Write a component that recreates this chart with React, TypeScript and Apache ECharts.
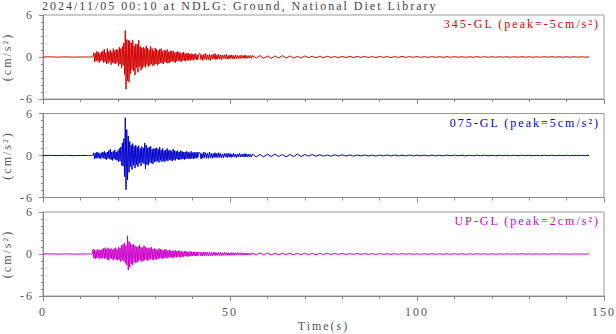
import React, { useEffect, useRef } from "react";
import * as echarts from "echarts";

const TITLE = "2024/11/05 00:10 at NDLG: Ground, National Diet Library";
const X_TICKS = [0, 50, 100, 150];
const Y_TICKS = [-6, 0, 6];
const LABELS = ["345-GL", "075-GL", "UP-GL"];
const PEAKS = ["-5", "5", "2"];
const COLORS = ["#d40000", "#0000cc", "#cc00cc"];
const Y_NAME = "(cm/s²)";

// Segment layout (start time, step in seconds)
const SEG_A = { t0: 0, dt: 2 };
const SEG_B = { t0: 12, dt: 0.2 };
const SEG_C = { t0: 42, dt: 0.25 };
const SEG_D = { t0: 56, dt: 1 };

// ---------- 345-GL ----------
const ns_a = [0, 0.02, -0.02, 0.02, -0.02, 0];
const ns_b = [
  0, 0, 0.05, -0.05, 0, 0.05, -0.05, 0.1,
  0.6, -0.7, 0.5, -0.6, 0.8, -0.5, 0.7, -0.8, 0.5, -0.6, 0.7, -0.5,
  0.9, -0.8, 1.1, -0.7, 0.6, -1.0, 1.2, -0.9, 0.8, -0.6, 1.0, -1.1, 0.7, -0.8, 1.2, -0.9, 0.9, -1.0, 1.1, -0.8,
  1.0, -1.3, 1.4, -1.0, 1.2, -1.6, 1.5, -1.2, 2.0, -2.5,
  3.8, -4.6, 2.5, -3.4, 2.4,
  -3.6, 2.3, -2.4, 2.0, -1.8, 2.4, -2.0, 1.6, -2.6, 1.9,
  -1.5, 1.8, -2.2, 2.4, -1.4, 1.5, -1.9, 1.3, -1.6, 1.4,
  -1.3, 1.2, -1.5, 1.6, -1.1, 1.3, -1.4, 1.0, -1.2, 1.5, -1.0, 1.2, -1.3, 0.9, -1.1,
  1.3, -1.0, 1.1, -1.2, 0.9, -1.0, 1.1, -0.8, 1.2, -0.9, 0.8, -1.0, 1.0, -0.7, 0.9, -0.8, 1.1, -0.9, 0.7, -0.8,
  0.9, -0.7, 0.8, -0.6, 0.9, -0.7, 0.6, -0.8, 0.7, -0.6, 0.8, -0.5, 0.7, -0.6, 0.5, -0.7, 0.6, -0.5, 0.7, -0.5,
  0.5, -0.6, 0.5, -0.4, 0.6, -0.5, 0.4, -0.5, 0.5, -0.4, 0.4, -0.5, 0.4, -0.3, 0.5, -0.4, 0.3, -0.4, 0.4,
];
const ns_c = [
  0.5, -0.4, 0.3, -0.5, 0.4, -0.3, 0.5, -0.4, 0.3, -0.4,
  0.4, -0.5, 0.3, -0.3, 0.4, -0.3, 0.5, -0.4, 0.3, -0.3,
  0.4, -0.3, 0.3, -0.4, 0.3, -0.2, 0.3, -0.3, 0.4, -0.3,
  0.2, -0.3, 0.3, -0.2, 0.3, -0.3, 0.2, -0.3, 0.3, -0.2,
  0.2, -0.3, 0.2, -0.2, 0.3, -0.2, 0.2, -0.2, 0.3, -0.2,
  0.2, -0.2, 0.2, -0.15, 0.2, -0.2,
];
const ns_d = [
  0.2, -0.15, 0.2, -0.2, 0.15, -0.2, 0.15, -0.15, 0.2, -0.15, 0.15, -0.15, 0.1, -0.15, 0.15,
  -0.1, 0.1, -0.1, 0.08, -0.1, 0.1, -0.08, 0.08, -0.1, 0.08,
  -0.08, 0.1, -0.08, 0.08, -0.06, 0.08, -0.08, 0.06, -0.08, 0.08,
  -0.06, 0.06, -0.08, 0.06, -0.06, 0.08, -0.06, 0.06, -0.05, 0.06,
  -0.05, 0.05, -0.06, 0.05, -0.05, 0.04, -0.05, 0.05, -0.04, 0.05,
  -0.04, 0.04, -0.05, 0.04, -0.04, 0.05, -0.04, 0.04, -0.04, 0.03,
  -0.04, 0.04, -0.03, 0.04, -0.04, 0.03, -0.03, 0.04, -0.03, 0.03,
  -0.04, 0.03, -0.03, 0.03, -0.03, 0.04, -0.03, 0.03, -0.03, 0.03,
  -0.03, 0.03, -0.02, 0.03, -0.03, 0.02,
];

// ---------- 075-GL ----------
const ew_a = [0, 0.02, -0.02, 0.02, -0.02, 0];
const ew_b = [
  0, 0, 0, 0.05, -0.05, 0, 0.05, 0,
  0.4, -0.5, 0.3, -0.4, 0.5, -0.3, 0.4, -0.4, 0.3, -0.5, 0.4, -0.3,
  0.5, -0.4, 0.6, -0.5, 0.4, -0.6, 0.5, -0.4, 0.7, -0.5, 0.9, -0.6, 0.5, -0.7, 0.6, -0.5, 0.8, -0.6, 0.5, -0.7,
  0.7, -0.9, 1.0, -0.8, 1.2, -1.4, 1.8, -1.5, 2.4, -3.0,
  5.4, -4.9, 3.7, -3.5, 2.8,
  -2.4, 2.0, -1.6, 1.5, -2.0, 1.7, -1.4, 1.3, -1.8, 1.5,
  -1.3, 1.2, -1.6, 1.4, -1.1, 1.0, -1.5, 1.3, -1.0, 1.1,
  -1.2, 1.8, -1.9, 1.5, -1.3, 1.1, -1.4, 1.2, -1.0, 1.3, -1.1, 0.9, -1.2, 1.0, -0.9,
  1.0, -0.9, 1.1, -0.8, 0.9, -1.0, 1.2, -0.7, 0.8, -0.9, 1.0, -0.8, 0.7, -0.9, 0.8, -0.7, 1.0, -0.8, 0.7, -0.6,
  0.8, -0.7, 0.6, -0.8, 0.9, -0.6, 0.7, -0.7, 0.6, -0.5, 0.7, -0.6, 0.5, -0.6, 0.7, -0.5, 0.6, -0.5, 0.5, -0.6,
  0.5, -0.5, 0.6, -0.4, 0.5, -0.5, 0.4, -0.5, 0.6, -0.4, 0.4, -0.5, 0.5, -0.4, 0.4, -0.4, 0.5, -0.3, 0.4,
];
const ew_c = [
  0.4, -0.5, 0.3, -0.4, 0.5, -0.3, 0.4, -0.4, 0.3, -0.4,
  0.5, -0.3, 0.3, -0.4, 0.3, -0.3, 0.4, -0.3, 0.3, -0.3,
  0.4, -0.3, 0.3, -0.3, 0.2, -0.3, 0.3, -0.2, 0.3, -0.3,
  0.3, -0.2, 0.3, -0.3, 0.2, -0.2, 0.3, -0.2, 0.2, -0.3,
  0.2, -0.2, 0.3, -0.2, 0.2, -0.2, 0.2, -0.2, 0.3, -0.2,
  0.2, -0.2, 0.2, -0.2, 0.15, -0.2,
];
const ew_d = [
  0.2, -0.2, 0.15, -0.2, 0.2, -0.15, 0.2, -0.15, 0.15, -0.2, 0.15, -0.15, 0.2, -0.15, 0.15,
  -0.1, 0.15, -0.1, 0.1, -0.1, 0.08, -0.1, 0.1, -0.08, 0.1,
  -0.08, 0.08, -0.1, 0.08, -0.06, 0.08, -0.08, 0.06, -0.08, 0.06,
  -0.06, 0.08, -0.06, 0.06, -0.06, 0.05, -0.06, 0.06, -0.05, 0.05,
  -0.05, 0.05, -0.06, 0.05, -0.05, 0.04, -0.05, 0.05, -0.04, 0.05,
  -0.04, 0.04, -0.05, 0.04, -0.04, 0.05, -0.04, 0.04, -0.04, 0.03,
  -0.04, 0.04, -0.03, 0.04, -0.04, 0.03, -0.03, 0.04, -0.03, 0.03,
  -0.04, 0.03, -0.03, 0.03, -0.03, 0.04, -0.03, 0.03, -0.03, 0.03,
  -0.03, 0.03, -0.02, 0.03, -0.03, 0.02,
];

// ---------- UP-GL ----------
const ud_a = [0, 0.02, -0.02, 0.02, -0.02, 0];
const ud_b = [
  0, 0.05, -0.05, 0, 0.05, -0.05, 0,
  0.7, -0.6, 0.6, -0.7, 0.5, -0.6, 0.7, -0.5, 0.6, -0.7, 0.5, -0.6, 0.7, -0.6,
  0.8, -0.7, 0.9, -0.6, 0.7, -0.8, 0.9, -0.9, 0.7, -0.6, 0.8, -0.7, 0.6, -0.9, 0.8, -0.7, 0.9, -0.8, 0.7, -0.9,
  1.0, -0.8, 0.9, -1.1, 1.2, -0.9, 1.4, -1.0, 1.6, -1.3,
  1.2, -1.6, 2.6, -2.3, 1.8,
  -1.9, 1.5, -1.4, 1.3, -1.6, 1.4, -1.1, 1.2, -1.3, 1.0,
  -1.2, 1.1, -1.0, 1.3, -0.9, 1.0, -1.1, 0.9, -1.0, 1.2,
  -0.9, 1.0, -0.8, 0.9, -1.0, 0.8, -0.8, 0.9, -0.7, 1.0, -0.8, 0.7, -0.9, 0.8, -0.7,
  0.7, -0.8, 0.6, -0.7, 0.8, -0.6, 0.7, -0.6, 0.6, -0.7, 0.5, -0.6, 0.7, -0.5, 0.6, -0.6, 0.5, -0.5, 0.6, -0.5,
  0.5, -0.5, 0.4, -0.6, 0.5, -0.4, 0.5, -0.5, 0.4, -0.4, 0.5, -0.4, 0.4, -0.5, 0.4, -0.4, 0.3, -0.4, 0.4, -0.3,
  0.4, -0.3, 0.3, -0.4, 0.3, -0.3, 0.4, -0.3, 0.3, -0.3, 0.3, -0.25, 0.3, -0.3, 0.25, -0.3, 0.3, -0.2, 0.25,
];
const ud_c = [
  0.3, -0.3, 0.25, -0.3, 0.3, -0.25, 0.3, -0.3, 0.25, -0.25,
  0.3, -0.25, 0.2, -0.25, 0.25, -0.2, 0.25, -0.25, 0.2, -0.2,
  0.25, -0.2, 0.2, -0.25, 0.2, -0.2, 0.25, -0.2, 0.2, -0.2,
  0.2, -0.2, 0.15, -0.2, 0.2, -0.15, 0.2, -0.2, 0.15, -0.15,
  0.2, -0.15, 0.15, -0.15, 0.2, -0.15, 0.15, -0.15, 0.15, -0.15,
  0.15, -0.15, 0.1, -0.15, 0.15, -0.1,
];
const ud_d = [
  0.12, -0.12, 0.15, -0.1, 0.12, -0.12, 0.1, -0.12, 0.12, -0.1, 0.1, -0.12, 0.1, -0.1, 0.12,
  -0.1, 0.08, -0.1, 0.08, -0.08, 0.1, -0.08, 0.08, -0.06, 0.08,
  -0.08, 0.06, -0.06, 0.08, -0.06, 0.06, -0.06, 0.05, -0.06, 0.06,
  -0.05, 0.05, -0.06, 0.05, -0.05, 0.05, -0.04, 0.05, -0.05, 0.04,
  -0.05, 0.04, -0.05, 0.04, -0.04, 0.04, -0.05, 0.04, -0.04, 0.04,
  -0.04, 0.04, -0.04, 0.03, -0.04, 0.04, -0.03, 0.04, -0.03, 0.03,
  -0.04, 0.03, -0.03, 0.03, -0.03, 0.03, -0.03, 0.04, -0.03, 0.03,
  -0.03, 0.03, -0.03, 0.02, -0.03, 0.03, -0.02, 0.03, -0.02, 0.02,
  -0.03, 0.02, -0.02, 0.02, -0.02, 0.02,
];

const TRACES = [
  [ns_a, ns_b, ns_c, ns_d],
  [ew_a, ew_b, ew_c, ew_d],
  [ud_a, ud_b, ud_c, ud_d],
];
const SEGS = [SEG_A, SEG_B, SEG_C, SEG_D];

function buildSeries(parts: number[][]): [number, number][] {
  const out: [number, number][] = [];
  parts.forEach((vals, k) => {
    const seg = SEGS[k];
    vals.forEach((v, i) => {
      out.push([+(seg.t0 + i * seg.dt).toFixed(2), v]);
    });
  });
  return out;
}

const FONT = "'Liberation Serif', 'Times New Roman', serif";
const GREY_TXT = "#555";
const AXIS_C = "#888";

const GRID_TOPS = [15, 113.5, 212];
const GRID_H = 84;

export default function App() {
  const ref = useRef<HTMLDivElement>(null);
  useEffect(() => {
    if (!ref.current) return;
    const chart = echarts.init(ref.current, null, { renderer: "svg" });

    const grids = GRID_TOPS.map((top) => ({
      left: 43,
      right: 12,
      top,
      height: GRID_H,
      show: true,
      borderColor: "#999",
      borderWidth: 1,
      backgroundColor: "transparent",
      containLabel: false,
      outerBoundsMode: "none",
    }));

    const xAxes = GRID_TOPS.map((_, i) => ({
      type: "value",
      gridIndex: i,
      min: X_TICKS[0],
      max: X_TICKS[X_TICKS.length - 1],
      interval: 50,
      axisLine: { show: true, onZero: false, lineStyle: { color: AXIS_C, width: 1 } },
      axisTick: { show: true, inside: false, length: 5, lineStyle: { color: AXIS_C } },
      minorTick: { show: true, splitNumber: 5, length: 3, lineStyle: { color: AXIS_C } },
      splitLine: { show: false },
      axisLabel: {
        show: i === 2,
        color: GREY_TXT,
        fontFamily: FONT,
        fontSize: 12,
        margin: 10,
      },
      name: i === 2 ? "Time(s)" : "",
      nameLocation: "middle",
      nameGap: 24,
      nameTextStyle: { color: GREY_TXT, fontFamily: FONT, fontSize: 12 },
    }));

    const yAxes = GRID_TOPS.map((_, i) => ({
      type: "value",
      gridIndex: i,
      min: Y_TICKS[0],
      max: Y_TICKS[Y_TICKS.length - 1],
      interval: 6,
      axisLine: { show: true, lineStyle: { color: AXIS_C, width: 1 } },
      axisTick: { show: true, inside: false, length: 4, lineStyle: { color: AXIS_C } },
      minorTick: { show: true, splitNumber: 6, length: 2, lineStyle: { color: AXIS_C } },
      splitLine: { show: false },
      axisLabel: { color: GREY_TXT, fontFamily: FONT, fontSize: 12, margin: 9 },
      name: Y_NAME,
      nameLocation: "middle",
      nameRotate: 90,
      nameGap: 28,
      nameTextStyle: { color: GREY_TXT, fontFamily: FONT, fontSize: 12 },
    }));

    const series = TRACES.map((parts, i) => ({
      type: "line",
      xAxisIndex: i,
      yAxisIndex: i,
      data: buildSeries(parts),
      showSymbol: false,
      symbol: "none",
      lineStyle: { color: COLORS[i], width: 1 },
      itemStyle: { color: COLORS[i] },
      silent: true,
    }));

    const labels = GRID_TOPS.map((top, i) => ({
      type: "text",
      x: 600,
      y: top + 3,
      style: {
        text: `${LABELS[i]} (peak=${PEAKS[i]}cm/s²)`,
        fill: COLORS[i],
        fontFamily: FONT,
        fontSize: 12,
        textAlign: "right",
        textVerticalAlign: "top",
      },
    }));

    chart.setOption({
      animation: false,
      grid: grids,
      xAxis: xAxes,
      yAxis: yAxes,
      series,
      graphic: [
        {
          type: "text",
          x: 42,
          y: 0,
          style: {
            text: TITLE,
            fill: "#444",
            fontFamily: FONT,
            fontSize: 12,
            textAlign: "left",
            textVerticalAlign: "top",
          },
        },
        ...labels,
      ],
    });
    return () => chart.dispose();
  }, []);

  return (
    <div
      ref={ref}
      style={{
        position: "absolute",
        left: 0,
        top: 0,
        width: 616,
        height: 334,
        background: "#fff",
        letterSpacing: "2px",
      }}
    />
  );
}
